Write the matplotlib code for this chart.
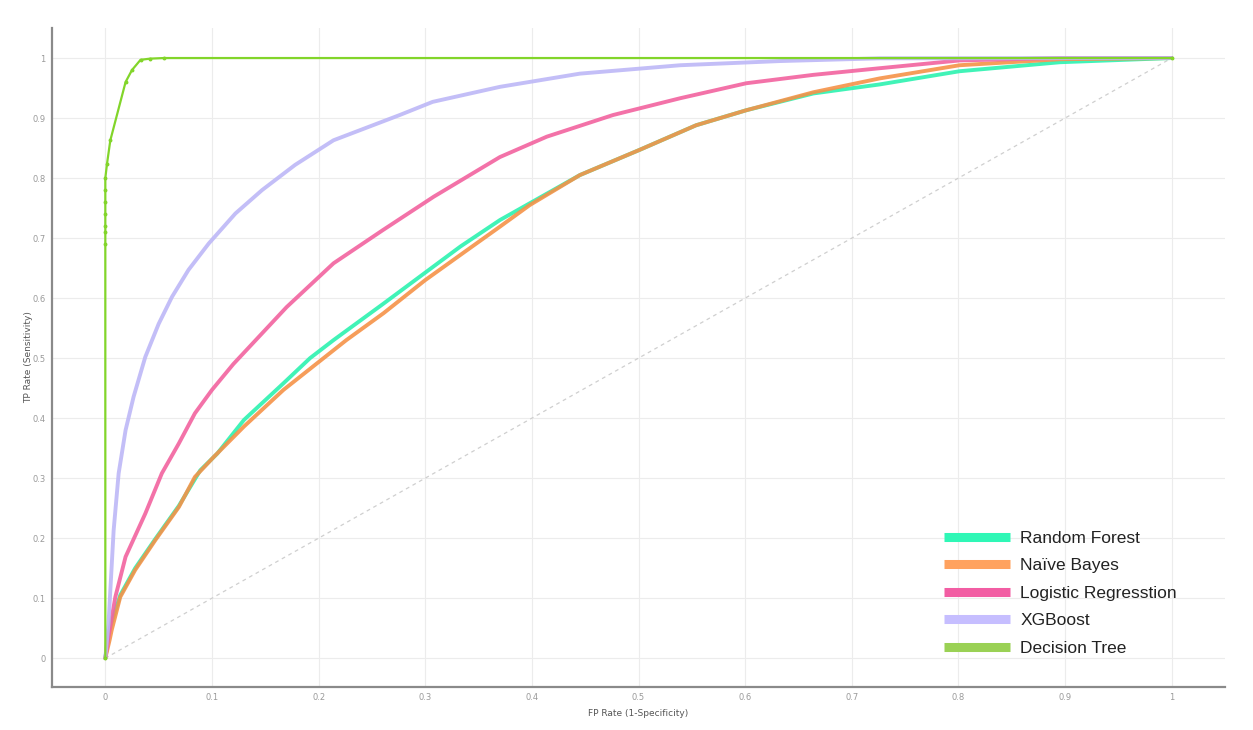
import matplotlib
matplotlib.use("Agg")
import matplotlib.pyplot as plt
import numpy as np

# ROC points (FP rate, TP rate)
rf_fpr = [0, 0.003, 0.006, 0.014, 0.028, 0.047, 0.069, 0.089, 0.105, 0.13, 0.167, 0.192, 0.214,
          0.261, 0.333, 0.37, 0.398, 0.445, 0.501, 0.554, 0.601, 0.664, 0.726, 0.801, 0.895, 1.0]
rf_tpr = [0, 0.04, 0.06, 0.105, 0.15, 0.199, 0.254, 0.313, 0.341, 0.397, 0.458, 0.50, 0.53,
          0.591, 0.686, 0.73, 0.758, 0.805, 0.847, 0.888, 0.913, 0.941, 0.956, 0.978, 0.993, 1.0]

nb_fpr = [0, 0.004, 0.006, 0.014, 0.028, 0.047, 0.069, 0.084, 0.1015, 0.13, 0.167, 0.226, 0.261,
          0.30, 0.333, 0.37, 0.398, 0.445, 0.501, 0.554, 0.601, 0.664, 0.726, 0.801, 0.895, 1.0]
nb_tpr = [0, 0.03, 0.047, 0.102, 0.147, 0.197, 0.252, 0.302, 0.335, 0.386, 0.447, 0.53, 0.575,
          0.63, 0.672, 0.719, 0.755, 0.805, 0.847, 0.888, 0.913, 0.943, 0.966, 0.988, 0.998, 1.0]

lr_fpr = [0, 0.003, 0.0094, 0.019, 0.0375, 0.053, 0.069, 0.084, 0.1, 0.12, 0.17, 0.214, 0.26,
          0.308, 0.37, 0.414, 0.476, 0.539, 0.601, 0.664, 0.726, 0.801, 0.895, 1.0]
lr_tpr = [0, 0.036, 0.102, 0.169, 0.241, 0.308, 0.358, 0.408, 0.447, 0.49, 0.585, 0.658, 0.713,
          0.769, 0.835, 0.869, 0.905, 0.933, 0.958, 0.972, 0.983, 0.996, 1.0, 1.0]

xgb_fpr = [0, 0.003, 0.0047, 0.0078, 0.0125, 0.019, 0.0265, 0.0375, 0.05, 0.0625, 0.078, 0.097,
           0.122, 0.147, 0.178, 0.214, 0.276, 0.307, 0.37, 0.445, 0.539, 0.633, 0.726, 1.0]
xgb_tpr = [0, 0.058, 0.113, 0.213, 0.308, 0.38, 0.4355, 0.502, 0.557, 0.602, 0.647, 0.691,
           0.741, 0.78, 0.822, 0.863, 0.905, 0.927, 0.952, 0.974, 0.988, 0.995, 0.9995, 1.0]

dt_fpr = [0, 0, 0, 0, 0, 0, 0, 0, 0.0016, 0.0047, 0.019, 0.025, 0.033, 0.042, 0.055, 1.0]
dt_tpr = [0, 0.69, 0.71, 0.72, 0.74, 0.76, 0.78, 0.80, 0.824, 0.863, 0.96, 0.98, 0.997, 0.999, 1.0, 1.0]

models = ["Random Forest", "Naïve Bayes", "Logistic Regresstion", "XGBoost", "Decision Tree"]
line_colors = ["#2cf2b0", "#f59248", "#f2639f", "#bdb7f7", "#82d52a"]
legend_colors = ["#2ff7b6", "#ffa25f", "#f25da3", "#c6beff", "#9ad155"]
ticks = [0, 0.1, 0.2, 0.3, 0.4, 0.5, 0.6, 0.7, 0.8, 0.9, 1]
tick_labels = ["0", "0.1", "0.2", "0.3", "0.4", "0.5", "0.6", "0.7", "0.8", "0.9", "1"]

fig = plt.figure(figsize=(12.53, 7.30), dpi=100)
ax = fig.add_axes([0.0415, 0.0589, 0.9362, 0.9027])

# chance line
ax.plot([0, 1], [0, 1], color="#cfcfcf", lw=0.9, ls=(0, (3, 3)), zorder=1)

curves = [(rf_fpr, rf_tpr), (nb_fpr, nb_tpr), (lr_fpr, lr_tpr), (xgb_fpr, xgb_tpr)]
for (fx, fy), col in zip(curves, line_colors[:4]):
    ax.plot(fx, fy, color=col, lw=2.8, alpha=0.9, solid_capstyle="round",
            solid_joinstyle="round", zorder=3)
ax.plot(dt_fpr, dt_tpr, color=line_colors[4], lw=1.6, marker="o", markersize=1.8, zorder=4)

# legend handles, drawn thicker than the lines
handles = [plt.Line2D([], [], color=c, lw=6.5, solid_capstyle="butt") for c in legend_colors]
leg = ax.legend(
    handles, models,
    loc="upper left",
    bbox_to_anchor=(0.76, 0.237),
    frameon=False,
    borderpad=0,
    borderaxespad=0,
    handlelength=3.85,
    handletextpad=0.57,
    labelspacing=0.71,
    prop={"family": "Liberation Sans", "size": 12.5},
)
for t in leg.get_texts():
    t.set_color("#222222")

ax.set_xlim(-0.05, 1.05)
ax.set_ylim(-0.048, 1.05)
ax.set_xticks(ticks)
ax.set_xticklabels(tick_labels)
ax.set_yticks(ticks)
ax.set_yticklabels(tick_labels)
ax.tick_params(axis="both", length=0, labelsize=6, labelcolor="#9a9a9a", pad=4.5)
ax.grid(True, color="#ececec", lw=0.8)
ax.set_axisbelow(True)

for side in ["top", "right"]:
    ax.spines[side].set_visible(False)
for side in ["left", "bottom"]:
    ax.spines[side].set_color("#8a8a8a")
    ax.spines[side].set_linewidth(1.6)

ax.set_xlabel("FP Rate (1-Specificity)", fontsize=6.5, color="#555555", labelpad=5)
ax.set_ylabel("TP Rate (Sensitivity)", fontsize=6.5, color="#555555")
ax.yaxis.set_label_coords(-0.0165, 0.5)

fig.savefig("out.png", dpi=100)
